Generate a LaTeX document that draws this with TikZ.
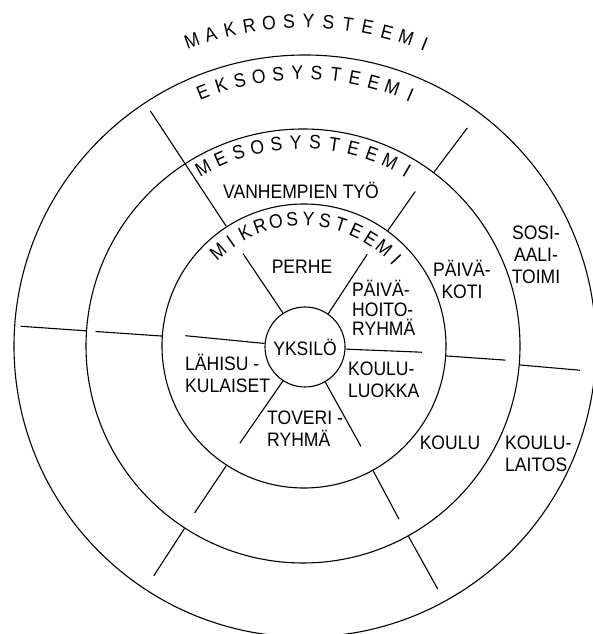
\documentclass[tikz,border=0pt]{standalone}
\usepackage{fontspec}
\setmainfont{Liberation Sans}[FakeStretch=0.9]
\begin{document}
\begin{tikzpicture}[x=1pt,y=1pt,
every node/.style={font=\fontsize{19.5}{22}\selectfont,inner sep=0pt},
ring/.style={circle,draw,line width=1.1pt},
spoke/.style={line width=1.1pt},
txt/.style={align=left},
txtc/.style={align=center}
]
\useasboundingbox (0,0) rectangle (592,634);
\coordinate (c) at (303,288);
\node[ring,minimum size=582pt] (ekso) at ([xshift=2pt]c) {};
\node[ring,minimum size=434pt] (meso) at (c) {};
\node[ring,minimum size=284pt] (mikro) at ([xshift=1pt]c) {};
\node[ring,minimum size=80pt] (yksilo) at ([shift={(2,-1)}]c) {YKSILÖ};
\foreach \a/\r in {123/110,55/112,175/118,357/119,237/116,300/116}
  \draw[spoke] (yksilo.\a) -- ([shift={(\a:\r)}]c);
\foreach \a/\r in {123/280,54/191,176/208,356/203,237/199,299/198}
  \draw[spoke] (mikro.\a) -- ([shift={(\a:\r)}]c);
\foreach \a/\r in {53/273,176/283,355/278,237/274,299/278}
  \draw[spoke] (meso.\a) -- ([shift={(\a:\r)}]c);
\foreach \l [count=\i] in {M,A,K,R,O,S,Y,S,T,E,E,M,I}
  {\pgfmathsetmacro\b{110-(\i-1)*3.5}
   \node[rotate=\b-90] (makro\i) at ([shift={(\b:325)}]c) {\l};}
\foreach \l [count=\i] in {E,K,S,O,S,Y,S,T,E,E,M,I}
  {\pgfmathsetmacro\b{111.5-(\i-1)*4.06}
   \node[rotate=\b-90] (eksot\i) at ([shift={(\b:273)}]c) {\l};}
\foreach \l [count=\i] in {M,E,S,O,S,Y,S,T,E,E,M,I}
  {\pgfmathsetmacro\b{119.3-(\i-1)*5.45}
   \node[rotate=\b-90] (mesot\i) at ([shift={(\b:204)}]c) {\l};}
\foreach \l [count=\i] in {M,I,K,R,O,S,Y,S,T,E,E,M,I}
  {\pgfmathsetmacro\b{132-(\i-1)*7.42}
   \node[rotate=\b-90] (mikrot\i) at ([shift={(\b:127)}]c) {\l};}
\node (tyo) at (301,444) {VANHEMPIEN TYÖ};
\node (perhe) at (302,367) {PERHE};
\node[txt,anchor=west,font=\fontsize{19.5}{19.5}\selectfont] (hoito) at (352,326) {PÄIVÄ-\\HOITO-\\RYHMÄ};
\node[txt,anchor=west] (lahi) at (185,261) {LÄHISU -\\KULAISET};
\node[txt,anchor=west] (luokka) at (348,254) {KOULU-\\LUOKKA};
\node[txt,anchor=west] (toveri) at (267,205) {TOVERI -\\RYHMÄ};
\node[txtc] (paivakoti) at (462,355) {PÄIVÄ-\\KOTI};
\node[txtc] (sosiaali) at (536,379) {SOSI-\\AALI-\\TOIMI};
\node (koulu) at (450,191) {KOULU};
\node[txt,anchor=west] (laitos) at (505,180) {KOULU-\\LAITOS};
\end{tikzpicture}
\end{document}
